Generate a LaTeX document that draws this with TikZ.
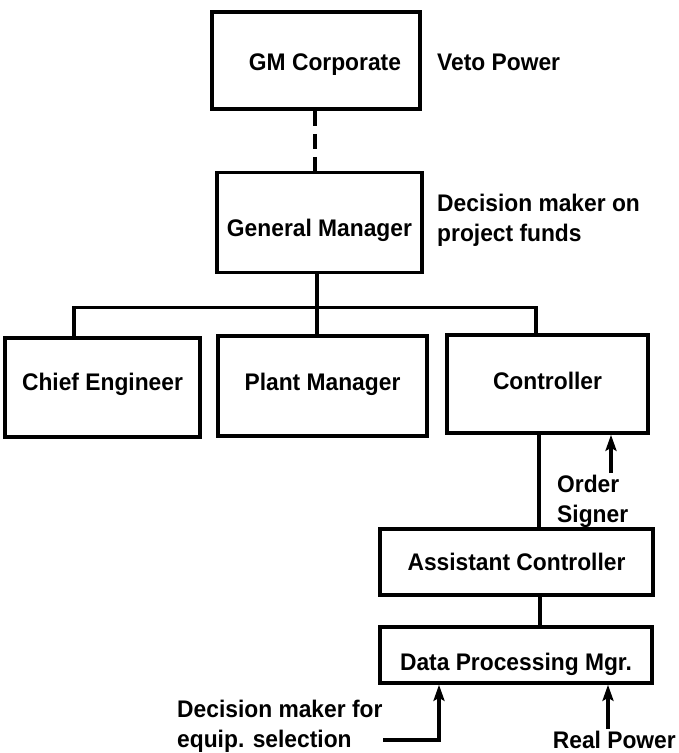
\documentclass[tikz,border=0pt]{standalone}
\usepackage{fontspec}
\setmainfont{Liberation Sans}[RawFeature={extend=0.95}]
\usetikzlibrary{arrows.meta}
\begin{document}
\begin{tikzpicture}[x=1pt,y=-1pt,
  txt/.style={font=\fontsize{24}{30}\selectfont\bfseries},
  box/.style={txt, draw, line width=3.6pt, inner sep=0pt, text height=17.2pt, text depth=0pt},
  lab/.style={txt, inner sep=0pt, align=left},
  conn/.style={line width=3.2pt},
  arr/.style={line width=3.2pt, -{Stealth[length=16pt,width=11pt,inset=3pt]}}
]
\useasboundingbox (0,0) rectangle (678,753);
% boxes
\node[box, minimum width=208pt, minimum height=97pt, text height=20.2pt] (gmc) at (316,60.5) {\hspace*{18pt}GM Corporate};
\node[box, minimum width=205pt, minimum height=100pt, text height=28.2pt] (gm) at (319.5,222.5) {General Manager};
\node[box, minimum width=195pt, minimum height=99pt, text depth=12pt] (chief) at (102.5,387.5) {Chief Engineer};
\node[box, minimum width=209pt, minimum height=100pt, text depth=9pt] (plant) at (322.5,386) {Plant Manager};
\node[box, minimum width=201pt, minimum height=98pt, text depth=7pt] (ctrl) at (547.5,384) {Controller};
\node[box, minimum width=273pt, minimum height=66pt] (asst) at (516.5,562) {Assistant Controller};
\node[box, minimum width=272pt, minimum height=56pt, text height=30.2pt] (dp) at (516,655) {Data Processing Mgr.};
% labels
\node[lab, anchor=west, text height=17.2pt, text depth=0pt] (veto) at (437,62) {Veto Power};
\node[lab, anchor=north west] (dmon) at (437,193.5) {Decision maker on\\project funds};
\node[lab, anchor=north west] (order) at (557,475) {Order\\Signer};
\node[lab, anchor=north west] (dmfor) at (177,699.5) {Decision maker for\\equip. selection};
\node[lab, anchor=east, text height=17.2pt, text depth=0pt] (real) at (676,739.5) {Real Power};
% connectors
\coordinate (dx) at (315,0);
\draw[conn, dash pattern=on 15.5pt off 7.5pt] (gmc.south -| dx) -- (gm.north -| dx);
\coordinate (px) at (317,0);
\draw[conn] (gm.south -| px) -- (plant.north -| px);
\coordinate (bl) at (74,307.5);
\coordinate (br) at (536,307.5);
\draw[conn] (chief.north -| bl) -- (bl) -- (br) -- (ctrl.north -| br);
\coordinate (cx) at (539,0);
\draw[conn] (ctrl.south -| cx) -- (asst.north -| cx);
\coordinate (ax) at (540,0);
\draw[conn] (asst.south -| ax) -- (dp.north -| ax);
\coordinate (ot) at (611,473);
\draw[arr] (ot) -- (ctrl.south -| ot);
\coordinate (dl) at (383,740);
\coordinate (dlx) at (439,0);
\draw[arr] (dl) -| (dp.south -| dlx);
\coordinate (rp) at (608,729);
\draw[arr] (rp) -- (dp.south -| rp);
\end{tikzpicture}
\end{document}
